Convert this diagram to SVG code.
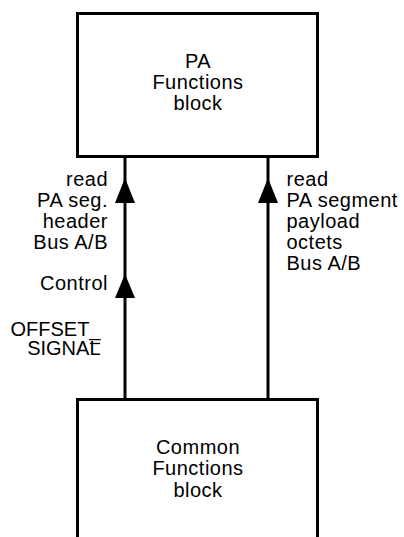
<svg xmlns="http://www.w3.org/2000/svg" width="404" height="537" viewBox="0 0 404 537">
<style>
.box{fill:#fff;stroke:#000;stroke-width:3}
.ln{stroke:#000;stroke-width:3;fill:none}
.ah{fill:#000}
text{font-family:"Liberation Sans",Arial,sans-serif;font-size:20px;fill:#000;letter-spacing:0.5px}
.c{text-anchor:middle}
.e{text-anchor:end}
.o{letter-spacing:0}
</style>
<rect width="404" height="537" fill="#fff"/>
<g id="connectors">
<line class="ln" x1="125" y1="157" x2="125" y2="399"/>
<line class="ln" x1="268" y1="157" x2="268" y2="399"/>
<polygon class="ah" points="125,178 115,203 135,203"/>
<polygon class="ah" points="125,274 115,298 135,298"/>
<polygon class="ah" points="268,178 258,203 278,203"/>
<g id="label-left">
<text class="e" x="108" y="186">read</text>
<text class="e" x="108" y="207">PA seg.</text>
<text class="e" x="108" y="228">header</text>
<text class="e" x="108" y="249">Bus A/B</text>
</g>
<text id="label-control" class="e" x="108" y="290">Control</text>
<g id="label-offset">
<text class="e o" x="100.5" y="335.5">OFFSET_</text>
<text class="e o" x="100.5" y="354.5">SIGNAL</text>
<line x1="90" y1="343.5" x2="100" y2="343.5" stroke="#000" stroke-width="1.3"/>
</g>
<g id="label-right">
<text x="286.5" y="186">read</text>
<text x="286.5" y="207">PA segment</text>
<text x="286.5" y="228">payload</text>
<text x="286.5" y="249">octets</text>
<text x="286.5" y="270">Bus A/B</text>
</g>
</g>
<g id="pa-functions">
<rect class="box" x="77.5" y="13.5" width="240" height="143"/>
<text class="c" x="198" y="68">PA</text>
<text class="c" x="198" y="89">Functions</text>
<text class="c" x="198" y="110">block</text>
</g>
<g id="common-functions">
<rect class="box" x="77.5" y="399.5" width="240" height="150"/>
<text class="c" x="198" y="454">Common</text>
<text class="c" x="198" y="475">Functions</text>
<text class="c" x="198" y="496.5">block</text>
</g>
</svg>
